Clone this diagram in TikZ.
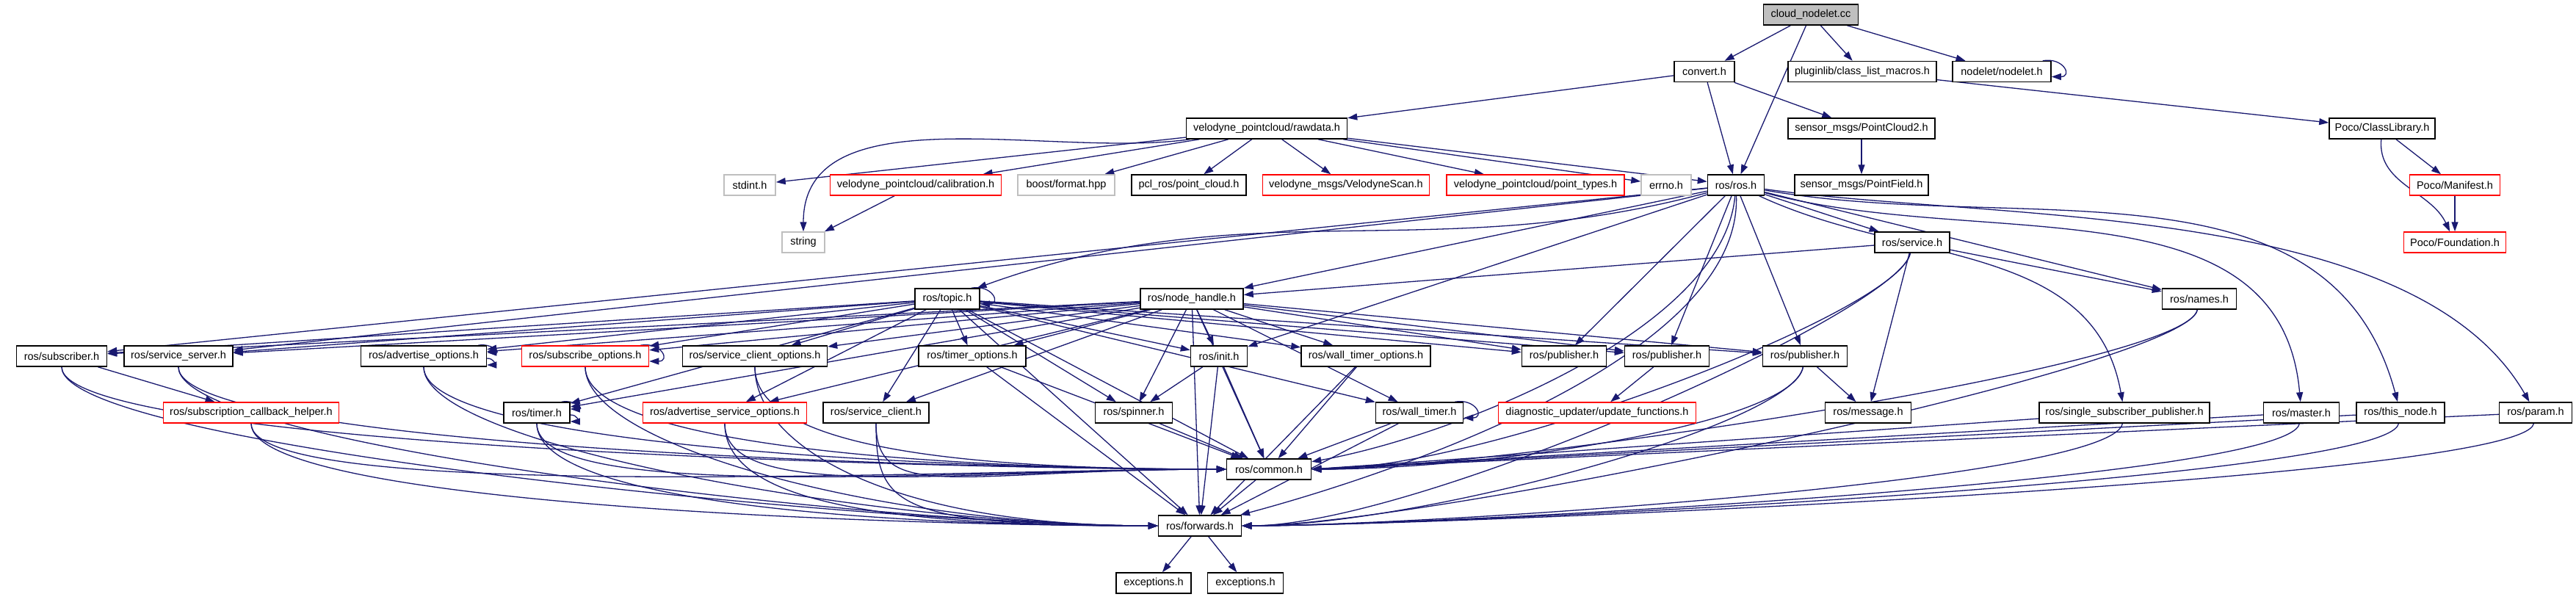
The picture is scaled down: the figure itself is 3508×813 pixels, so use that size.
\documentclass[tikz,border=0pt]{standalone}
\usepackage{fontspec}
\setmainfont{Liberation Sans}
\usetikzlibrary{arrows.meta}
\definecolor{edgec}{RGB}{25,25,112}
\definecolor{grayb}{RGB}{191,191,191}
\definecolor{redb}{RGB}{255,0,0}
\pgfdeclarelayer{bg}
\pgfsetlayers{bg,main}
\begin{document}
\begin{tikzpicture}[x=0.5pt,y=0.5pt,
  box/.style={draw=black,line width=0.75pt,fill=white,minimum height=14pt,inner sep=0pt,minimum width=0.5*#1,font=\fontsize{7.25}{8.5}\selectfont},
  redbox/.style={box=#1,draw=redb},
  graybox/.style={box=#1,draw=grayb},
  edge/.style={draw=edgec,line width=0.65pt,-{Triangle[length=6.5pt,width=4.5pt]}},
  lc/.style={edge,out=-90,in=180,out distance=55pt,in distance=180pt},
  rc/.style={edge,out=-100,in=0,out distance=40pt,in distance=120pt},
  lp/.style={edge,out=10,in=0,looseness=3}]
\useasboundingbox (0,0) rectangle (3508,-813);
% nodes
\node[box=129pt,fill=grayb] (cloud) at (2466,-20) {cloud\_nodelet.cc};
\node[box=82pt] (convert) at (2321,-97.5) {convert.h};
\node[box=202pt] (plugin) at (2536,-97.5) {pluginlib/class\_list\_macros.h};
\node[box=134pt] (nodelet) at (2726,-97.5) {nodelet/nodelet.h};
\node[box=219pt] (rawdata) at (1725,-175) {velodyne\_pointcloud/rawdata.h};
\node[box=200pt] (pc2) at (2535,-175) {sensor\_msgs/PointCloud2.h};
\node[box=144pt] (pococl) at (3244,-175) {Poco/ClassLibrary.h};
\node[graybox=70pt] (stdint) at (1021,-252) {stdint.h};
\node[redbox=233pt] (calib) at (1247,-252) {velodyne\_pointcloud/calibration.h};
\node[graybox=132pt] (boostfmt) at (1452,-252) {boost/format.hpp};
\node[box=156pt] (pclros) at (1619,-252) {pcl\_ros/point\_cloud.h};
\node[redbox=227pt] (velscan) at (1833,-252) {velodyne\_msgs/VelodyneScan.h};
\node[redbox=242pt] (ptypes) at (2091,-252) {velodyne\_pointcloud/point\_types.h};
\node[graybox=68pt] (errno) at (2269,-252) {errno.h};
\node[box=77pt] (ros) at (2364,-252) {ros/ros.h};
\node[box=182pt] (pfield) at (2535,-252) {sensor\_msgs/PointField.h};
\node[redbox=123pt] (manifest) at (3343,-252) {Poco/Manifest.h};
\node[graybox=58pt] (string) at (1094,-330) {string};
\node[box=102pt] (service) at (2604,-330) {ros/service.h};
\node[redbox=139pt] (foundation) at (3343,-330) {Poco/Foundation.h};
\node[box=88pt] (topic) at (1290,-407) {ros/topic.h};
\node[box=140pt] (nh) at (1623,-407) {ros/node\_handle.h};
\node[box=101pt] (names) at (2995,-407) {ros/names.h};
\node[box=123pt] (subscriber) at (84,-485) {ros/subscriber.h};
\node[box=148pt] (srvserver) at (243,-485) {ros/service\_server.h};
\node[box=171pt] (advopts) at (577,-485) {ros/advertise\_options.h};
\node[redbox=173pt] (subopts) at (797,-485) {ros/subscribe\_options.h};
\node[box=197pt] (srvcliopts) at (1028,-485) {ros/service\_client\_options.h};
\node[box=146pt] (timeropts) at (1324,-485) {ros/timer\_options.h};
\node[box=77pt] (init) at (1660,-485) {ros/init.h};
\node[box=176pt] (wtopts) at (1860,-485) {ros/wall\_timer\_options.h};
\node[box=115pt] (pub1) at (2130,-485) {ros/publisher.h};
\node[box=115pt] (pub2) at (2270,-485) {ros/publisher.h};
\node[box=115pt] (pub3) at (2458,-485) {ros/publisher.h};
\node[redbox=239pt] (subcb) at (342,-562) {ros/subscription\_callback\_helper.h};
\node[box=90pt] (timer) at (731,-562) {ros/timer.h};
\node[redbox=223pt] (advsrvopts) at (987,-562) {ros/advertise\_service\_options.h};
\node[box=144pt] (srvclient) at (1193,-562) {ros/service\_client.h};
\node[box=105pt] (spinner) at (1544,-562) {ros/spinner.h};
\node[box=119pt] (walltimer) at (1933,-562) {ros/wall\_timer.h};
\node[redbox=269pt] (diag) at (2175,-562) {diagnostic\_updater/update\_functions.h};
\node[box=117pt] (message) at (2544,-562) {ros/message.h};
\node[box=232pt] (ssp) at (2893,-562) {ros/single\_subscriber\_publisher.h};
\node[box=103pt] (master) at (3134,-562) {ros/master.h};
\node[box=120pt] (thisnode) at (3269,-562) {ros/this\_node.h};
\node[box=99pt] (param) at (3453,-562) {ros/param.h};
\node[box=115pt] (common) at (1728,-639) {ros/common.h};
\node[box=113pt] (forwards) at (1634,-716) {ros/forwards.h};
\node[box=102pt] (exc1) at (1571,-794) {exceptions.h};
\node[box=103pt] (exc2) at (1696,-794) {exceptions.h};
% edges
\begin{pgfonlayer}{bg}
\fill[white] (0,0) rectangle (3508,-813);
\foreach \t in {convert,ros,plugin,nodelet} \draw[edge] (cloud) -- (\t);
\draw[lp] ([xshift=-6pt]nodelet.north east) to ([yshift=-3.5pt]nodelet.east);
\draw[edge] (plugin) -- (pococl);
\draw[edge] (pococl) -- (manifest);
\draw[edge] (pococl) to[out=-95,in=115] (foundation);
\draw[edge] (manifest) -- (foundation);
\foreach \t in {rawdata,ros,pc2} \draw[edge] (convert) -- (\t);
\draw[edge] (pc2) -- (pfield);
\foreach \t in {stdint,calib,boostfmt,pclros,velscan,ptypes,errno,ros} \draw[edge] (rawdata) -- (\t);
\draw[edge] (rawdata) to[out=188,in=90,looseness=0.9] (string);
\draw[edge] (calib) -- (string);
% ros.h
\draw[edge] (ros) to[out=195,in=20] (topic);
\foreach \t in {nh,service,names,init,pub1,pub2,pub3,subscriber,srvserver} \draw[edge] (ros) -- (\t);
\draw[edge] (ros) to[out=-25,in=100] (ssp);
\draw[edge] (ros) to[out=-15,in=95] (master);
\draw[edge] (ros) to[out=-10,in=105] (thisnode);
\draw[edge] (ros) to[out=-8,in=120,looseness=0.75] (param);
\draw[edge] (ros) to[out=-95,in=10,looseness=0.7] (common);
\draw[edge] (ros) to[out=-88,in=15,looseness=0.7] (forwards);
% service.h
\foreach \t in {nh,names,message} \draw[edge] (service) -- (\t);
\draw[rc] (service) to (common);
\draw[rc] (service) to (forwards);
\draw[rc] (names) to (common);
\draw[rc] (names) to (forwards);
\draw[edge] (pub3) -- (message);
\draw[rc] (pub3) to (common);
\draw[rc] (pub3) to (forwards);
\draw[edge] (pub2) -- (diag);
\foreach \s in {ssp,master,thisnode,param} {\draw[edge] (\s) -- (common.east); \draw[rc] (\s) to (forwards);}
% topic.h and node_handle.h
\draw[lp] ([xshift=-6pt]topic.north east) to ([yshift=-3.5pt]topic.east);
\foreach \t in {subscriber,srvserver,advopts,subopts,srvcliopts,timeropts,timer,advsrvopts,srvclient,spinner,init,wtopts,walltimer,pub1,pub2,pub3,common,forwards} {\draw[edge] (topic) -- (\t); \draw[edge] (nh) -- (\t);}
% self loops
\draw[lp] ([xshift=-6pt]advopts.north east) to ([yshift=2.5pt]advopts.east);
\draw[edge] ([yshift=-1.5pt]advopts.east) to[out=0,in=0,looseness=3] ([yshift=-6pt]advopts.east);
\draw[lp] ([xshift=-6pt]subopts.north east) to ([yshift=-3.5pt]subopts.east);
\draw[lp] ([xshift=-6pt]timer.north east) to ([yshift=2.5pt]timer.east);
\draw[edge] ([yshift=-1.5pt]timer.east) to[out=0,in=0,looseness=3] ([yshift=-6pt]timer.east);
\draw[lp] ([xshift=-6pt]walltimer.north east) to ([yshift=-3.5pt]walltimer.east);
% lower layers
\draw[edge] (subscriber) -- (subcb);
\foreach \s in {subscriber,srvserver,advopts,subopts,srvcliopts,subcb,timer,advsrvopts,srvclient} {\draw[lc] (\s) to (common); \draw[lc] (\s) to (forwards);}
\draw[edge] (timeropts) -- (common);
\draw[edge] (timeropts) -- (forwards);
\draw[edge] (spinner) -- (common);
\foreach \t in {spinner,common,forwards} \draw[edge] (init) -- (\t);
\foreach \s in {wtopts,walltimer} {\draw[edge] (\s) -- (common); \draw[edge] (\s) -- (forwards);}
\draw[edge] (common) -- (forwards);
\draw[edge] (forwards) -- (exc1);
\draw[edge] (forwards) -- (exc2);
\end{pgfonlayer}
\end{tikzpicture}
\end{document}
